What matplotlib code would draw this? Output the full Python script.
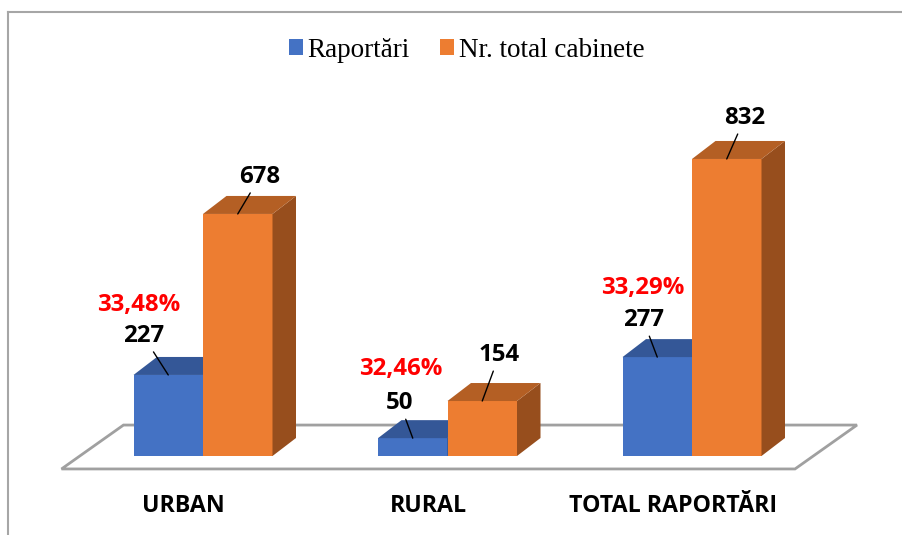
import matplotlib.pyplot as plt
from matplotlib.patches import Polygon
from matplotlib.lines import Line2D

# date
categorii = ['URBAN', 'RURAL', 'TOTAL RAPORTĂRI']
raportari = [227, 50, 277]
total_cabinete = [678, 154, 832]
procente = [33.48, 32.46, 33.29]

# culori (fata, sus, lateral)
albastru = ('#4472C4', '#345797', '#2B4A80')
portocaliu = ('#ED7D31', '#B45F24', '#974E1D')

W, H = 902, 535
fig = plt.figure(figsize=(W / 100, H / 100), dpi=100)
ax = fig.add_axes([0, 0, 1, 1])
ax.axis('off')

# scara: o categorie = 244.5 px, 1 unitate = 0.357 px
px_x, px_y = 244.5, 0.357
x0, y0 = 203, 456
ax.set_xlim(-x0 / px_x, (W - x0) / px_x)
ax.set_ylim((y0 - H) / px_y, y0 / px_y)

w = 69.5 / px_x                     # latimea unei bare
ddx, ddy = 23.5 / px_x, 18 / px_y   # adancimea barelor
fdx, fdy = 62 / px_x, 123           # adancimea podelei
mx, my = ddx / 2, ddy / 2           # mijlocul adancimii barelor

# podeaua
fx0, fy0 = mx - fdx / 2, my - fdy / 2
podea = [(-0.5 + fx0, fy0), (2.5 + fx0, fy0),
         (2.5 + fx0 + fdx, fy0 + fdy), (-0.5 + fx0 + fdx, fy0 + fdy)]
ax.add_patch(Polygon(podea, closed=True, facecolor='white',
                     edgecolor='#A0A0A0', lw=2, zorder=1))

x = list(range(len(categorii)))


def bare_3d(xs, vals, culori, label, z):
    bars = ax.bar(xs, vals, width=w, align='edge', color=culori[0],
                  lw=0, zorder=z, label=label)
    for b in bars:
        bx, bw, bh = b.get_x(), b.get_width(), b.get_height()
        sus = [(bx, bh), (bx + bw, bh), (bx + bw + ddx, bh + ddy), (bx + ddx, bh + ddy)]
        lat = [(bx + bw, 0), (bx + bw + ddx, ddy), (bx + bw + ddx, bh + ddy), (bx + bw, bh)]
        ax.add_patch(Polygon(lat, closed=True, facecolor=culori[2], lw=0, zorder=z))
        ax.add_patch(Polygon(sus, closed=True, facecolor=culori[1], lw=0, zorder=z))
    return bars


b1 = bare_3d([i - w for i in x], raportari, albastru, 'Raportări', 3)
b2 = bare_3d(x, total_cabinete, portocaliu, 'Nr. total cabinete', 4)

lbl_font = dict(family='Open Sans', fontweight='bold', fontsize=17.3)
off_r = [(-25, 33), (-13, 29), (-14, 31)]
off_c = [(22, 31), (17, 40), (18, 35)]
off_p = [(-30, 64), (-12, 63), (-14, 63)]

for i in x:
    xb = b1[i].get_x() + w / 2
    ax.annotate(str(raportari[i]), xy=(xb, raportari[i]), xytext=off_r[i],
                textcoords='offset pixels', ha='center', va='baseline',
                color='black', zorder=10, **lbl_font,
                arrowprops=dict(arrowstyle='-', color='black', lw=1,
                                shrinkA=1, shrinkB=0))
    ax.annotate(f'{procente[i]:.2f}%'.replace('.', ','), xy=(xb, raportari[i]),
                xytext=off_p[i], textcoords='offset pixels', ha='center',
                va='baseline', color='#FF0000', zorder=10, **lbl_font)
    xo = b2[i].get_x() + w / 2
    ax.annotate(str(total_cabinete[i]), xy=(xo, total_cabinete[i]), xytext=off_c[i],
                textcoords='offset pixels', ha='center', va='baseline',
                color='black', zorder=10, **lbl_font,
                arrowprops=dict(arrowstyle='-', color='black', lw=1,
                                shrinkA=1, shrinkB=0))

# etichete categorii
for i in x:
    ax.text(i + fx0, 0.043, categorii[i], transform=ax.get_xaxis_transform(),
            ha='center', va='baseline', family='Open Sans', fontweight='bold',
            fontsize=16.7, color='black')

# legenda
ax.legend(loc='center', bbox_to_anchor=(0.517, 0.906), ncol=2, frameon=False,
          prop={'family': 'Liberation Serif', 'size': 19.5},
          handlelength=0.55, handleheight=0.55, handletextpad=0.15,
          columnspacing=1.1)

# chenar
fig.add_artist(Line2D([8 / W, 8 / W], [0, 1 - 12 / H], color='#A6A6A6', lw=1.5))
fig.add_artist(Line2D([8 / W, 1], [1 - 12 / H, 1 - 12 / H], color='#A6A6A6', lw=1.5))

fig.savefig('out.png', dpi=100)
